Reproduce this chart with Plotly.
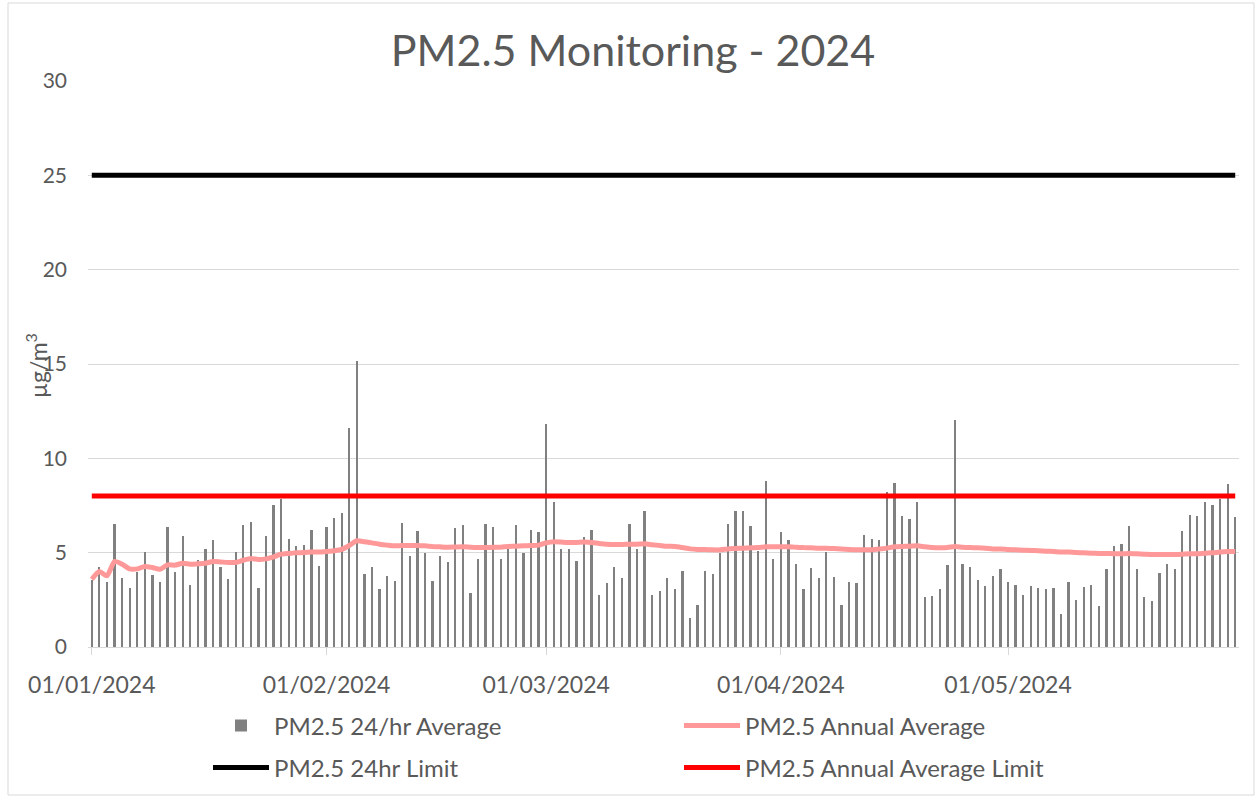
import pandas as pd
import plotly.graph_objects as go

# ---------------- data ----------------
start_date = "2024-01-01"
end_date = "2024-05-31"
dates = pd.date_range(start_date, end_date, freq="D")

pm25_24hr = [
    # Jan 1 - Jan 26
    3.54, 4.25, 3.43, 6.53, 3.66, 3.12, 3.95, 5.04, 3.82, 3.47, 6.37, 3.96, 5.86,
    3.31, 4.60, 5.19, 5.68, 4.25, 3.61, 5.01, 6.46, 6.60, 3.12, 5.91, 7.54, 7.83,
    # Jan 27 - Feb 21
    5.72, 5.35, 5.42, 6.18, 4.28, 6.37, 6.83, 7.10, 11.59, 15.15, 3.88, 4.25, 3.10,
    3.75, 3.49, 6.57, 4.83, 6.14, 4.99, 3.50, 4.80, 4.51, 6.30, 6.46, 2.87, 4.67,
    # Feb 22 - Mar 18
    6.53, 6.35, 4.67, 5.17, 6.48, 4.96, 6.18, 6.12, 11.82, 7.68, 5.19, 5.19, 4.57,
    5.82, 6.19, 2.76, 3.38, 4.25, 3.65, 6.53, 5.17, 7.22, 2.76, 2.97, 3.65, 3.10,
    # Mar 19 - Apr 12
    4.04, 1.54, 2.21, 4.04, 3.88, 4.99, 6.53, 7.20, 7.20, 6.42, 5.10, 8.81, 4.64,
    6.09, 5.65, 4.41, 3.08, 4.21, 3.68, 5.06, 3.72, 2.21, 3.43, 3.40, 5.95,
    # Apr 13 - May 8
    5.75, 5.66, 8.23, 8.71, 6.96, 6.78, 7.70, 2.67, 2.71, 3.08, 4.37, 12.04, 4.41,
    4.25, 3.54, 3.22, 3.75, 4.12, 3.45, 3.27, 2.78, 3.24, 3.15, 3.10, 3.12, 1.73,
    # May 9 - May 31
    3.45, 2.51, 3.19, 3.27, 2.18, 4.14, 5.35, 5.45, 6.42, 4.16, 2.67, 2.44, 3.91,
    4.41, 4.11, 6.14, 6.99, 6.96, 7.68, 7.52, 7.85, 8.62, 6.87,
]

pm25_annual_avg = [
    # Jan 1 - Jan 26
    3.59, 4.00, 3.77, 4.53, 4.39, 4.14, 4.14, 4.27, 4.21, 4.12, 4.35, 4.34, 4.44,
    4.39, 4.41, 4.44, 4.53, 4.51, 4.48, 4.48, 4.60, 4.69, 4.64, 4.67, 4.78, 4.92,
    # Jan 27 - Feb 21
    4.96, 4.99, 5.01, 5.03, 5.03, 5.06, 5.10, 5.17, 5.38, 5.63, 5.58, 5.52, 5.45,
    5.40, 5.36, 5.38, 5.38, 5.38, 5.36, 5.33, 5.31, 5.29, 5.30, 5.31, 5.29, 5.27,
    # Feb 22 - Mar 18
    5.27, 5.29, 5.29, 5.33, 5.34, 5.36, 5.38, 5.40, 5.52, 5.58, 5.56, 5.54, 5.54,
    5.56, 5.54, 5.49, 5.45, 5.43, 5.43, 5.45, 5.45, 5.47, 5.42, 5.38, 5.34, 5.33,
    # Mar 19 - Apr 12
    5.27, 5.20, 5.17, 5.17, 5.15, 5.15, 5.20, 5.22, 5.24, 5.26, 5.27, 5.31, 5.31,
    5.31, 5.31, 5.29, 5.27, 5.26, 5.24, 5.24, 5.22, 5.20, 5.17, 5.15, 5.15,
    # Apr 13 - May 8
    5.15, 5.19, 5.24, 5.31, 5.33, 5.34, 5.36, 5.31, 5.27, 5.26, 5.27, 5.33, 5.29,
    5.27, 5.26, 5.24, 5.20, 5.20, 5.17, 5.15, 5.13, 5.12, 5.10, 5.08, 5.06, 5.03,
    # May 9 - May 31
    5.03, 5.01, 4.99, 4.97, 4.96, 4.96, 4.94, 4.94, 4.96, 4.94, 4.92, 4.90, 4.90,
    4.90, 4.90, 4.92, 4.94, 4.94, 4.97, 4.99, 5.03, 5.06, 5.06,
]

limit_24hr = 25
limit_annual = 8

tick_dates = ["2024-01-01", "2024-02-01", "2024-03-01", "2024-04-01", "2024-05-01"]
tick_labels = ["01/01/2024", "01/02/2024", "01/03/2024", "01/04/2024", "01/05/2024"]
y_ticks = [0, 5, 10, 15, 20, 25, 30]

# ---------------- styles ----------------
FONT = "Lato"
TXT = "#595959"
GRID = "#D9D9D9"

fig = go.Figure()

fig.add_trace(go.Bar(
    x=dates, y=pm25_24hr, name="PM2.5 24/hr Average",
    marker=dict(color="#808080", line=dict(width=0)),
    width=0.3 * 86400000, legend="legend",
))
fig.add_trace(go.Scatter(
    x=dates, y=pm25_annual_avg, name="PM2.5 Annual Average", mode="lines",
    line=dict(color="#FF9999", width=5, shape="spline", smoothing=0.6),
    legend="legend",
))
fig.add_trace(go.Scatter(
    x=dates, y=[limit_24hr] * len(dates), name="PM2.5 24hr Limit", mode="lines",
    line=dict(color="#000000", width=5), legend="legend2",
))
fig.add_trace(go.Scatter(
    x=dates, y=[limit_annual] * len(dates), name="PM2.5 Annual Average Limit",
    mode="lines", line=dict(color="#FF0000", width=5), legend="legend2",
))

L, R, T, B = 88, 18, 81, 151
W, H = 1257, 798
pw, ph = W - L - R, H - T - B

def px_x(px):
    return (px - L) / pw

def px_y(py):
    return (H - B - py) / ph

x0 = pd.Timestamp(start_date) - pd.Timedelta(hours=12)
x1 = pd.Timestamp(end_date) + pd.Timedelta(hours=12)

legend_common = dict(
    orientation="h", xanchor="left", yanchor="middle",
    font=dict(family=FONT, size=24, color=TXT),
    entrywidth=400, entrywidthmode="pixels", itemwidth=56,
    bgcolor="rgba(0,0,0,0)", traceorder="normal",
)

fig.update_layout(
    width=W, height=H,
    margin=dict(l=L, r=R, t=T, b=B, autoexpand=False),
    paper_bgcolor="white", plot_bgcolor="white",
    font=dict(family=FONT, color=TXT),
    title=dict(text="PM2.5 Monitoring - 2024", x=633 / W, xanchor="center",
               xref="container", y=1 - 51 / H, yanchor="middle", yref="container",
               font=dict(family=FONT, size=43, color=TXT)),
    bargap=0,
    showlegend=True,
    legend=dict(x=px_x(208), y=px_y(726), **legend_common),
    legend2=dict(x=px_x(208), y=px_y(768), **legend_common),
    xaxis=dict(
        type="date", range=[x0, x1], automargin=False,
        tickvals=tick_dates, ticktext=tick_labels,
        showgrid=False, showline=True, linecolor=GRID, linewidth=1,
        ticks="outside", ticklen=7, tickcolor=GRID,
        ticklabelstandoff=10,
        tickfont=dict(family=FONT, size=23, color=TXT),
        zeroline=False,
    ),
    yaxis=dict(
        range=[0, 30], tickvals=y_ticks, automargin=False,
        showgrid=True, gridcolor=GRID, gridwidth=1,
        showline=False, zeroline=False,
        ticks="", ticklabelstandoff=20,
        tickfont=dict(family=FONT, size=21, color=TXT),
    ),
    annotations=[dict(
        text="µg/m<sup>3</sup>", textangle=-90, xref="paper", yref="paper",
        x=px_x(36), y=px_y(366), xanchor="center", yanchor="middle",
        showarrow=False, font=dict(family=FONT, size=23, color=TXT),
    )],
    shapes=[dict(
        type="rect", xref="paper", yref="paper",
        x0=px_x(8), x1=px_x(1254), y0=px_y(795), y1=px_y(3),
        line=dict(color=GRID, width=1), fillcolor="rgba(0,0,0,0)", layer="below",
    )],
)

fig.write_html(
    "out.html",
    config={"displayModeBar": False},
    post_script="document.body.style.margin='0';document.body.style.padding='0';",
)
